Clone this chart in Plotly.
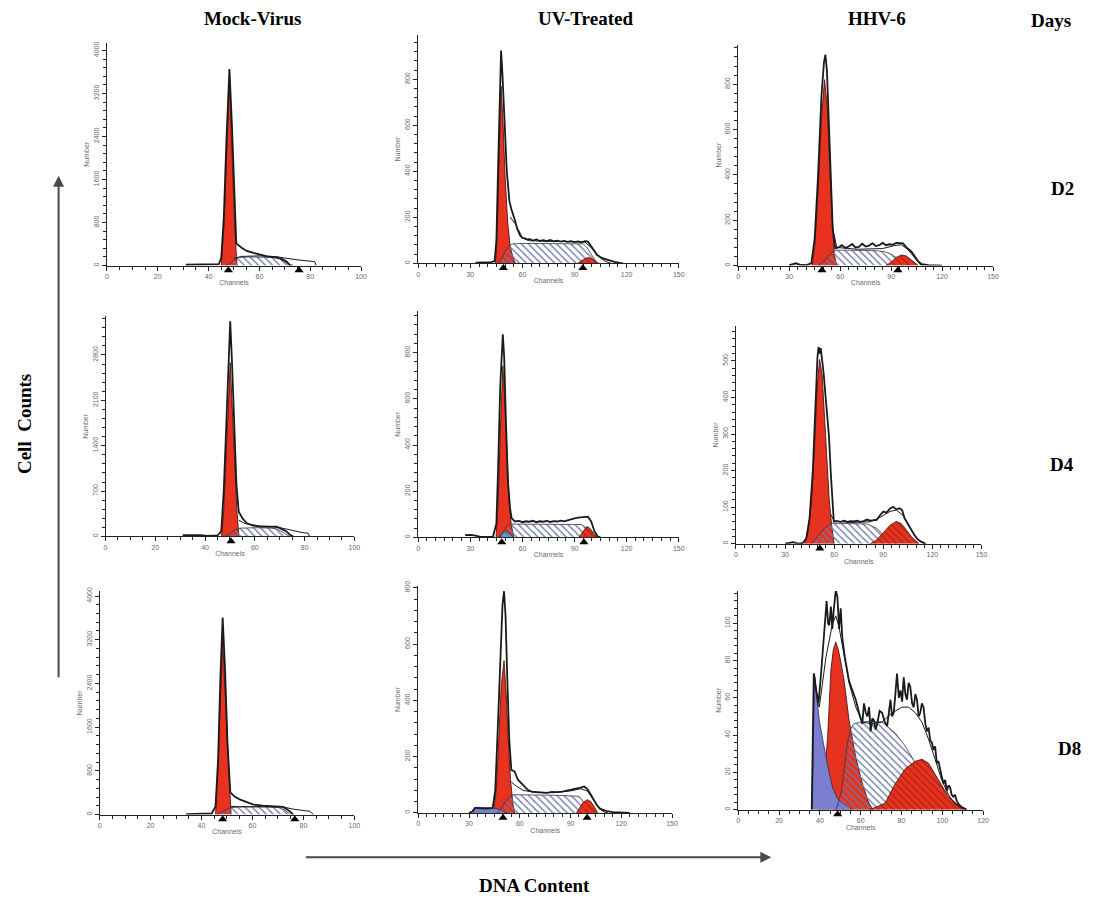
import plotly.graph_objects as go

W, H = 1096, 906

# ---------------- Cell-cycle histograms: (channel, count) pairs ----------------
# Mock-Virus, day 2
MOCK_D2_G1 = [(45, 0), (46, 700), (47, 1900), (48.2, 3460), (49.3, 2000), (50.3, 700), (51.2, 0)]
MOCK_D2_S = [(47, 0), (48.5, 40), (50, 110), (52, 150), (56, 160), (62, 155), (66, 150), (68, 130), (70, 70), (72, 0)]
MOCK_D2_DATA = [(31, 15), (40, 20), (44, 25), (45, 150), (46, 900), (47, 2300), (48.2, 3655), (49.2, 2600),
                (50.2, 1300), (50.9, 412), (53, 330), (55, 271), (58, 230), (60.3, 197), (63, 170), (66.8, 148),
                (69, 120), (70.7, 74), (72, 10), (73, 0)]
MOCK_D2_FIT = [(50, 135), (53, 170), (60, 180), (66.8, 166), (70, 140), (72, 123), (76, 100), (81.8, 74), (82.3, 0)]
MOCK_D2_MARKS = [47.8, 75.6]

# UV-Treated, day 2
UV_D2_G1 = [(44.5, 0), (45.5, 120), (46.5, 450), (47.7, 770), (48.8, 620), (50, 380), (51.5, 180), (53, 70), (55, 15), (56, 0)]
UV_D2_S = [(46, 0), (48, 20), (50, 50), (52, 72), (54, 84), (58, 86), (70, 86), (85, 85), (95, 84), (97, 70), (99, 45), (101, 22), (103, 0)]
UV_D2_G2 = [(92, 0), (94, 10), (96, 20), (98, 25), (100, 20), (102, 8), (104, 0)]
UV_D2_DATA = [(33, 3), (38, 4), (42, 5), (44, 10), (45, 100), (46, 420), (47, 800), (47.7, 925), (48.5, 820), (49.5, 620),
              (51, 400), (52.5, 270), (53.8, 230), (55.7, 187), (57, 150), (58.6, 122), (60, 110), (61.5, 108), (63, 102),
              (64, 106), (66, 99), (68, 104), (70, 97), (72, 100), (74, 96), (76, 101), (78, 95), (80, 98), (82, 94),
              (84, 97), (86, 93), (88, 96), (90, 92), (92, 95), (94, 91), (96, 96), (97.7, 94), (99, 80), (101, 58),
              (103, 36), (106, 22), (109, 14), (113, 6), (116, 2), (118, 0)]
UV_D2_FIT = [(53, 200), (56, 170), (60, 110), (64, 98), (80, 95), (96, 92), (100, 65), (103, 38), (105, 22), (108, 8), (111, 0)]
UV_D2_MARKS = [49, 94.8]

# HHV-6, day 2
HHV_D2_G1 = [(43.5, 0), (45, 80), (47, 330), (49, 650), (50.8, 820), (52.5, 690), (54, 400), (55.3, 180), (56.5, 50), (58, 0)]
HHV_D2_S = [(47, 0), (50, 15), (53, 40), (55.5, 60), (58, 68), (70, 67), (80, 66), (86, 62), (90, 50), (94, 30), (97, 12), (100, 0)]
HHV_D2_G2 = [(87, 0), (90, 15), (93, 36), (96, 47), (99, 42), (102, 26), (104, 12), (106, 0)]
HHV_D2_DATA = [(30, 2), (34, 10), (36, 4), (40, 2), (43, 10), (45, 120), (47, 400), (49, 750), (50.5, 900), (51.3, 930),
               (52.2, 860), (53.5, 600), (54.6, 330), (55.6, 163), (57.1, 76), (59, 80), (61, 90), (63, 78), (65, 84),
               (67, 95), (69, 80), (71, 82), (73, 96), (75, 84), (77, 88), (79, 98), (81, 86), (83, 90), (85, 100),
               (87, 90), (89, 94), (91, 92), (93, 100), (95, 98), (97, 98), (99, 80), (102, 61), (104, 40), (106, 18),
               (108, 6), (112, 2), (120, 0)]
HHV_D2_FIT = [(56, 150), (58, 80), (70, 72), (85, 75), (92, 88), (96, 92), (100, 70), (104, 30), (107, 5), (109, 0)]
HHV_D2_MARKS = [49.3, 94]

# Mock-Virus, day 4
MOCK_D4_G1 = [(46.6, 0), (47.5, 400), (48.5, 1300), (49.4, 2200), (50.1, 2683), (50.9, 2000), (51.8, 1100), (52.7, 450), (53.6, 0)]
MOCK_D4_S = [(48, 0), (50, 40), (52, 100), (54, 128), (60, 135), (66, 130), (69, 115), (71, 70), (73, 20), (74, 0)]
MOCK_D4_DATA = [(31, 20), (35, 25), (38, 22), (41, 10), (45, 15), (46.5, 80), (47.5, 700), (48.5, 1700), (49.5, 2900),
                (50.1, 3320), (50.8, 2700), (51.7, 1600), (52.6, 800), (53.5, 383), (55, 280), (56.8, 204), (59, 170),
                (62, 153), (66, 150), (68.8, 150), (70.5, 120), (72.7, 77), (74, 30), (75.4, 0)]
MOCK_D4_FIT = [(53.5, 250), (56, 200), (62, 160), (68, 150), (72, 120), (76, 80), (79, 60), (81.4, 50), (82, 0)]
MOCK_D4_MARKS = [50.4]

# UV-Treated, day 4
UV_D4_G1 = [(44.8, 0), (46, 150), (47.2, 450), (48.7, 743), (49.8, 600), (51, 350), (52.3, 160), (53.5, 60), (55, 0)]
UV_D4_S = [(47, 0), (49, 25), (51, 48), (52.5, 58), (60, 58), (75, 57), (90, 58), (94, 56), (96, 45), (98, 25), (100, 8), (101, 0)]
UV_D4_G2 = [(92.5, 0), (94, 15), (95.5, 35), (97, 47), (98.5, 42), (100, 28), (101.5, 12), (103, 0)]
UV_D4_APO = [(46.5, 0), (47.5, 12), (49, 22), (50.5, 25), (52, 20), (53.5, 10), (55, 0)]
UV_D4_DATA = [(27, 10), (30, 11), (33, 8), (36, 2), (43, 3), (45, 60), (46, 300), (47.2, 650), (48.7, 879), (49.5, 780),
              (50.5, 500), (51.6, 250), (52.8, 130), (53.8, 83), (55.7, 69), (58, 72), (60, 66), (62, 70), (64, 68),
              (66, 72), (68, 66), (70, 70), (72, 68), (74, 72), (76, 67), (78, 71), (80, 69), (82, 73), (84, 70),
              (86, 75), (88, 78), (90, 83), (92, 86), (94, 88), (96, 90), (97.7, 90), (99.6, 69), (101.5, 26),
              (103.4, 4), (105, 0)]
UV_D4_MARKS = [48.1, 95.4]

# HHV-6, day 4
HHV_D4_G1 = [(42, 0), (44, 30), (46, 110), (48, 260), (49.5, 420), (51.1, 504), (52.7, 460), (54, 360), (55.5, 230),
             (57, 120), (58.5, 50), (60, 0)]
HHV_D4_S = [(46, 0), (50, 20), (54, 42), (58, 56), (70, 56), (80, 54), (86, 42), (90, 25), (95, 8), (98, 0)]
HHV_D4_G2 = [(82, 0), (86, 10), (90, 30), (94, 50), (98, 61), (101, 55), (104, 38), (107, 20), (110, 7), (112, 0)]
HHV_D4_DATA = [(30, 0), (33, 3), (35, 4), (38, 0), (41, 2), (43, 15), (45, 70), (47, 200), (48.5, 380), (49.8, 510),
               (50.5, 538), (51.2, 520), (51.8, 535), (52.6, 510), (53.5, 470), (55, 390), (56.8, 296), (58, 190),
               (58.8, 115), (59.8, 61), (62, 62), (64, 60), (66, 63), (68, 60), (70, 62), (72, 61), (74, 63), (76, 60),
               (78, 62), (80, 66), (82, 63), (84, 65), (86, 65), (88, 78), (90, 88), (92, 85), (94, 96), (96, 101),
               (98, 94), (100, 97), (101.5, 92), (103, 70), (104.7, 56), (107, 38), (109, 24), (111, 12), (113, 6), (116, 0)]
HHV_D4_FIT = [(58, 80), (60, 62), (70, 58), (82, 60), (88, 72), (94, 88), (98, 92), (102, 78), (106, 45), (110, 18), (113, 4), (115, 0)]
HHV_D4_MARKS = [51.3]

# Mock-Virus, day 8
MOCK_D8_G1 = [(45.5, 0), (46.5, 900), (47.4, 2100), (48.3, 3182), (49.3, 2200), (50.4, 1000), (51.6, 0)]
MOCK_D8_S = [(46, 0), (47.5, 30), (49, 70), (51, 125), (55, 140), (65, 140), (70, 130), (72.5, 90), (74, 30), (75, 0)]
MOCK_D8_DATA = [(34, 10), (40, 15), (44, 20), (45.5, 150), (46.5, 1000), (47.4, 2500), (48.3, 3606), (49.2, 2700),
                (50.2, 1300), (51.3, 406), (53, 330), (55.2, 273), (58, 220), (60.4, 182), (64, 165), (68.2, 152),
                (72, 140), (73.5, 100), (74.7, 60), (76, 0)]
MOCK_D8_FIT = [(51.5, 150), (55, 145), (65, 145), (72, 140), (76, 100), (80, 75), (82.5, 60), (84, 0)]
MOCK_D8_MARKS = [48.3, 76.6]

# UV-Treated, day 8
UV_D8_G1 = [(44.5, 0), (46, 80), (47.5, 250), (49, 450), (50.7, 541), (52, 420), (53.2, 260), (54.5, 120), (56, 30), (57, 0)]
UV_D8_S = [(47, 0), (49, 15), (51, 35), (53, 52), (56, 65), (70, 64), (85, 62), (95, 59), (97, 45), (99, 22), (101, 0)]
UV_D8_G2 = [(93.5, 0), (95.5, 18), (97.5, 38), (100, 47), (102, 40), (104, 22), (106, 0)]
UV_D8_APO = [(32.5, 0), (33.3, 18), (35, 20), (40, 18), (45, 17), (48, 12), (50, 6), (52, 0)]
UV_D8_DATA = [(30, 0), (32, 5), (33.5, 18), (36, 17), (40, 15), (44, 18), (45.5, 80), (47, 300), (48.5, 580),
              (49.8, 740), (50.7, 788), (51.6, 700), (52.6, 480), (53.8, 260), (55, 153), (57, 147), (58.9, 118),
              (61.8, 100), (64.7, 82), (67, 76), (70, 74), (73, 73), (76, 71), (79, 75), (82, 74), (85, 76), (88, 80),
              (90, 82), (92, 83), (94, 86), (96, 90), (98, 94), (100, 85), (102, 65), (103.7, 47), (105.5, 28),
              (107.6, 14), (111.5, 6), (115, 3), (120, 1), (125, 0)]
UV_D8_FIT = [(55, 110), (58, 95), (62, 80), (70, 72), (80, 72), (90, 78), (96, 86), (100, 78), (104, 42), (107, 15), (110, 3), (112, 0)]
UV_D8_MARKS = [50.1, 99.8]

# HHV-6, day 8
HHV_D8_G1 = [(39, 0), (40.6, 3), (42.2, 17), (43.8, 39), (45.4, 75), (46.6, 86), (47.8, 90), (49, 86), (50.5, 78),
             (51.9, 69), (54.3, 48), (57.6, 28), (60.8, 14), (64, 3.6), (66, 0)]
HHV_D8_S = [(48, 0), (50.6, 10), (52, 22), (53.5, 35.6), (55, 43), (56.5, 46), (60, 47), (65, 47.5), (70.5, 47), (74, 44),
            (77, 41), (81.9, 34), (86.8, 25), (91.7, 14), (96.6, 5), (100, 0)]
HHV_D8_G2 = [(64, 0), (68, 1.5), (72, 3.6), (77, 14), (81.9, 22), (86.8, 26), (90, 27), (93.2, 25), (98.1, 16), (103, 7),
             (107.9, 2.3), (111, 0)]
HHV_D8_APO = [(36.3, 0), (37.3, 73), (38.5, 60), (39.7, 48), (41.5, 37), (43, 28), (44.5, 20), (46.2, 12), (48.5, 6),
              (51, 3.6), (53.5, 1.5), (56, 0)]
HHV_D8_DATA = [(36, 0), (37, 73), (38.2, 64), (39.3, 57), (40.5, 72), (41.3, 84), (42.1, 96), (42.7, 104), (43.3, 112),
               (44, 100), (44.6, 99), (45.4, 109), (46.1, 97), (46.7, 106), (47.3, 114), (47.8, 118), (48.6, 114),
               (49.4, 97), (50.2, 108), (51, 92), (52.2, 82), (53.2, 76), (54.3, 69), (55.9, 64), (57.6, 59), (59.2, 52),
               (60.8, 46), (61.6, 57), (62.5, 52), (63.3, 50), (64.1, 55), (64.9, 42), (65.7, 49), (66.5, 48), (67.3, 43),
               (68.1, 46), (69.3, 53), (70.5, 52), (71.8, 47), (73, 45), (73.8, 54), (74.6, 59), (75.4, 50), (76.2, 52),
               (77, 62), (77.8, 73), (78.7, 60), (79.5, 64), (80.3, 58), (81.1, 71), (81.9, 62), (82.7, 59), (83.5, 68),
               (84.3, 66), (85.2, 57), (86, 55), (86.8, 62), (87.6, 59), (88.4, 50), (89.2, 52), (90, 57), (90.8, 55),
               (91.7, 46), (92.5, 42), (93.3, 44), (94.1, 37), (94.9, 36), (95.7, 32), (96.5, 34), (97.3, 25), (98.1, 26),
               (98.9, 21), (99.7, 18), (100.6, 14), (101.4, 16), (102.2, 10), (103, 13), (103.8, 12), (104.6, 8),
               (105.4, 7), (106.2, 8), (107, 5), (108, 3), (109.5, 1.4), (111.9, 0)]
HHV_D8_FIT = [(37.3, 73), (39, 57), (39.7, 55), (41.5, 70), (43, 82), (46.2, 100), (47.8, 104), (49.4, 98), (51.9, 82),
              (54.3, 68), (57.6, 55), (60.8, 47), (65.7, 46), (70.5, 47), (75.4, 52), (80.3, 55), (83.5, 55), (86.8, 52),
              (90, 47), (93.2, 38), (96.5, 27), (99.7, 16), (103, 8), (106.2, 3), (109.5, 0.5)]
HHV_D8_MARKS = [48.7]

COLUMN_TITLES = ["Mock-Virus", "UV-Treated", "HHV-6"]
DAY_LABELS = ["D2", "D4", "D8"]

# ---------------- panel geometry (pixels) and axis scales ----------------
# x0/x1: left/right of x axis, y0/y1: bottom/top of y axis
PANELS = [
    dict(x0=105.7, x1=361.7, xr=100, y0=262.3, y1=38.3, yr=4137, xd=20, yd=800, ym=160,
         g1=MOCK_D2_G1, s=MOCK_D2_S, g2=None, apo=None, data=MOCK_D2_DATA, fit=MOCK_D2_FIT, marks=MOCK_D2_MARKS),
    dict(x0=419.3, x1=681.7, xr=150, y0=260, y1=30, yr=993, xd=30, yd=200, ym=40,
         g1=UV_D2_G1, s=UV_D2_S, g2=UV_D2_G2, apo=None, data=UV_D2_DATA, fit=UV_D2_FIT, marks=UV_D2_MARKS),
    dict(x0=741.7, x1=998.3, xr=150, y0=262.3, y1=40, yr=974, xd=30, yd=200, ym=40,
         g1=HHV_D2_G1, s=HHV_D2_S, g2=HHV_D2_G2, apo=None, data=HHV_D2_DATA, fit=HHV_D2_FIT, marks=HHV_D2_MARKS),
    dict(x0=104.3, x1=355, xr=100, y0=535, y1=313.3, yr=3398, xd=20, yd=700, ym=140,
         g1=MOCK_D4_G1, s=MOCK_D4_S, g2=None, apo=None, data=MOCK_D4_DATA, fit=MOCK_D4_FIT, marks=MOCK_D4_MARKS),
    dict(x0=419.3, x1=681.7, xr=150, y0=536, y1=308.3, yr=979, xd=30, yd=200, ym=40,
         g1=UV_D4_G1, s=UV_D4_S, g2=UV_D4_G2, apo=UV_D4_APO, apo_color="#4fa3dc",
         data=UV_D4_DATA, fit=None, marks=UV_D4_MARKS),
    dict(x0=739.3, x1=986.7, xr=150, y0=542.3, y1=323.3, yr=595, xd=30, yd=100, ym=20,
         g1=HHV_D4_G1, s=HHV_D4_S, g2=HHV_D4_G2, apo=None, data=HHV_D4_DATA, fit=HHV_D4_FIT, marks=HHV_D4_MARKS),
    dict(x0=98.3, x1=355, xr=100, y0=815, y1=590, yr=4090, xd=20, yd=800, ym=160,
         g1=MOCK_D8_G1, s=MOCK_D8_S, g2=None, apo=None, data=MOCK_D8_DATA, fit=MOCK_D8_FIT, marks=MOCK_D8_MARKS),
    dict(x0=419.3, x1=675, xr=150, y0=813.3, y1=585, yr=806, xd=30, yd=200, ym=40,
         g1=UV_D8_G1, s=UV_D8_S, g2=UV_D8_G2, apo=UV_D8_APO, apo_color="#7b7fcf",
         data=UV_D8_DATA, fit=UV_D8_FIT, marks=UV_D8_MARKS),
    dict(x0=741.7, x1=988.3, xr=120, y0=810, y1=590, yr=117.3, xd=20, yd=20, ym=4,
         g1=HHV_D8_G1, s=HHV_D8_S, g2=HHV_D8_G2, apo=HHV_D8_APO, apo_color="#7b7fcf",
         data=HHV_D8_DATA, fit=HHV_D8_FIT, marks=HHV_D8_MARKS),
]

RED = "#e6321f"
HATCH = "#6b7aa6"
INK = "#1a1a1a"
TICK_FONT = dict(family="Arial, Liberation Sans, sans-serif", size=7, color="#6a6a6a")


def unzip(pairs):
    return [p[0] for p in pairs], [p[1] for p in pairs]


fig = go.Figure()
layout = dict(width=W, height=H, margin=dict(l=0, r=0, t=0, b=0),
              paper_bgcolor="white", plot_bgcolor="white", showlegend=False)

n = len(PANELS)
for k, p in enumerate(PANELS, start=1):
    xa, ya = f"x{k}", f"y{k}"
    common = dict(xaxis=xa, yaxis=ya, hoverinfo="skip", showlegend=False)

    # G1 peak (solid red)
    gx, gy = unzip(p["g1"])
    fig.add_trace(go.Scatter(x=gx, y=gy, mode="lines", fill="tozeroy", fillcolor=RED,
                             line=dict(color="#3a0a05", width=0.8), **common))
    # sub-G1 / apoptotic population
    if p["apo"]:
        ax_, ay_ = unzip(p["apo"])
        fig.add_trace(go.Scatter(x=ax_, y=ay_, mode="lines", fill="tozeroy", fillcolor=p["apo_color"],
                                 line=dict(color="#2a2a55", width=0.8), **common))
    # S phase (hatched)
    sx, sy = unzip(p["s"])
    fig.add_trace(go.Scatter(x=sx, y=sy, mode="lines", fill="tozeroy", fillcolor="rgba(255,255,255,0)",
                             fillpattern=dict(shape="\\", fgcolor=HATCH, size=5, solidity=0.28, fillmode="replace"),
                             line=dict(color="#333344", width=0.8), **common))
    # G2/M peak (red hatched)
    if p["g2"]:
        g2x, g2y = unzip(p["g2"])
        fig.add_trace(go.Scatter(x=g2x, y=g2y, mode="lines", fill="tozeroy", fillcolor=RED,
                                 fillpattern=dict(shape="\\", fgcolor="#6a1208", size=5, solidity=0.22,
                                                  fillmode="overlay"),
                                 line=dict(color="#3a0a05", width=0.8), **common))
    # model envelope (thin) and measured histogram (thick)
    if p["fit"]:
        fx, fy = unzip(p["fit"])
        fig.add_trace(go.Scatter(x=fx, y=fy, mode="lines", line=dict(color=INK, width=1.0), **common))
    dx, dy = unzip(p["data"])
    fig.add_trace(go.Scatter(x=dx, y=dy, mode="lines", line=dict(color=INK, width=1.8), **common))

    x_dom = [p["x0"] / W, p["x1"] / W]
    y_dom = [1 - p["y0"] / H, 1 - p["y1"] / H]
    layout[f"xaxis{k}"] = dict(
        domain=x_dom, anchor=ya, range=[0, p["xr"]], dtick=p["xd"], tick0=0,
        showgrid=False, zeroline=False, showline=True, linecolor="#222", linewidth=1,
        ticks="outside", ticklen=4, tickwidth=1, tickcolor="#222", tickfont=TICK_FONT,
        minor=dict(dtick=5, ticklen=3, ticks="outside", tickcolor="#222", showgrid=False),
        title=dict(text="Channels", font=TICK_FONT, standoff=1),
    )
    layout[f"yaxis{k}"] = dict(
        domain=y_dom, anchor=xa, range=[0, p["yr"]], dtick=p["yd"], tick0=0,
        showgrid=False, zeroline=False, showline=True, linecolor="#222", linewidth=1,
        ticks="outside", ticklen=4, tickwidth=1, tickcolor="#222", tickfont=TICK_FONT, tickangle=-90,
        minor=dict(dtick=p["ym"], ticklen=3, ticks="outside", tickcolor="#222", showgrid=False),
        title=dict(text="Number", font=TICK_FONT, standoff=2),
    )

    # peak position markers: a thin hidden strip just under the channel axis
    m = n + k
    layout[f"xaxis{m}"] = dict(domain=x_dom, anchor=f"y{m}", range=[0, p["xr"]], visible=False)
    layout[f"yaxis{m}"] = dict(domain=[1 - (p["y0"] + 9) / H, 1 - (p["y0"] + 0.5) / H],
                               anchor=f"x{m}", range=[0, 1], visible=False)
    fig.add_trace(go.Scatter(x=p["marks"], y=[0.5] * len(p["marks"]), mode="markers",
                             xaxis=f"x{m}", yaxis=f"y{m}", hoverinfo="skip", showlegend=False,
                             marker=dict(symbol="triangle-up", size=8, color="black")))

fig.update_layout(**layout)

HEAD_FONT = dict(family="Liberation Serif, Times New Roman, serif", size=19, color="black")
ann = []
for title, cx in zip(COLUMN_TITLES, [252, 588, 881]):
    ann.append(dict(text=f"<b>{title}</b>", x=cx / W, y=1 - 14 / H, xref="paper", yref="paper",
                    showarrow=False, font=HEAD_FONT, xanchor="center", yanchor="middle"))
ann.append(dict(text="<b>Days</b>", x=1057 / W, y=1 - 16 / H, xref="paper", yref="paper",
                showarrow=False, font=HEAD_FONT, xanchor="center", yanchor="middle"))
for lab, (cx, cy) in zip(DAY_LABELS, [(1068, 185), (1068, 463), (1075, 748)]):
    ann.append(dict(text=f"<b>{lab}</b>", x=cx / W, y=1 - cy / H, xref="paper", yref="paper",
                    showarrow=False, font=HEAD_FONT, xanchor="center", yanchor="middle"))
ann.append(dict(text="<b>Cell  Counts</b>", x=22 / W, y=1 - 422 / H, xref="paper", yref="paper",
                showarrow=False, font=HEAD_FONT, textangle=-90, xanchor="center", yanchor="middle"))
ann.append(dict(text="<b>DNA Content</b>", x=536 / W, y=1 - 886 / H, xref="paper", yref="paper",
                showarrow=False, font=HEAD_FONT, xanchor="center", yanchor="middle"))
# axis-direction arrows
ann.append(dict(x=57 / W, y=1 - 172 / H, xref="paper", yref="paper", ax=0, ay=503, axref="pixel", ayref="pixel",
                text="", showarrow=True, arrowhead=2, arrowsize=1.1, arrowwidth=2, arrowcolor="#4a4a4a"))
ann.append(dict(x=775 / W, y=1 - 858 / H, xref="paper", yref="paper", ax=-467, ay=0, axref="pixel", ayref="pixel",
                text="", showarrow=True, arrowhead=2, arrowsize=1.1, arrowwidth=2, arrowcolor="#4a4a4a"))
fig.update_layout(annotations=ann)

fig.write_html("out.html")
